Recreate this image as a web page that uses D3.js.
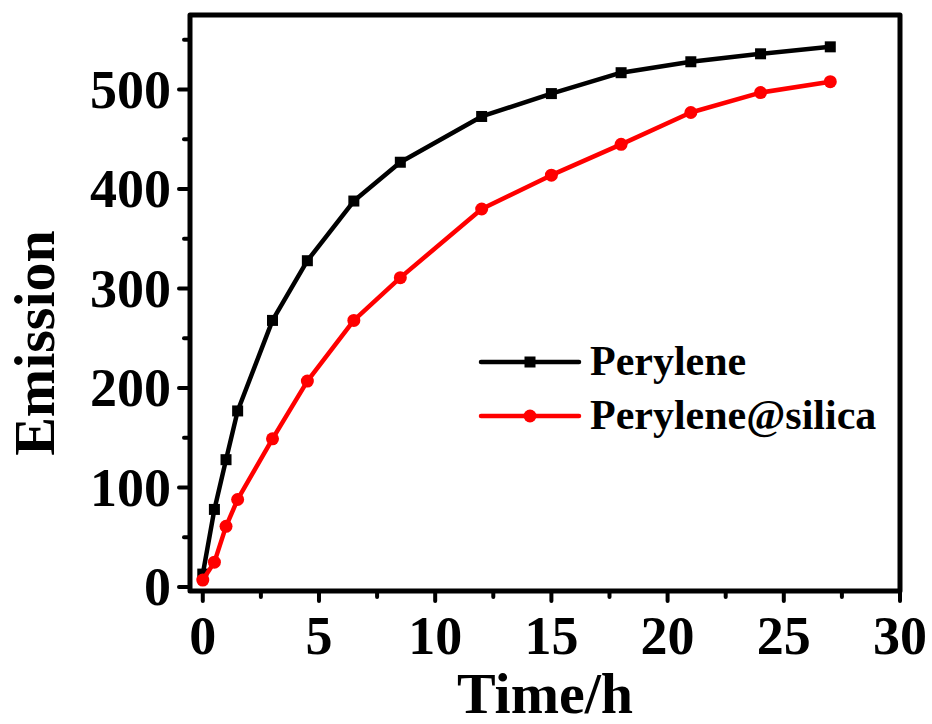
<!DOCTYPE html>
<html lang="en">
<head>
  <meta charset="utf-8">
  <title>Emission vs time</title>
  <script src="https://d3js.org/d3.v7.min.js"></script>
  <style>
    body { margin: 0; background: #fff; }
    text { font-family: "Liberation Serif", "Times New Roman", serif; font-weight: bold; }
  </style>
</head>
<body>
<svg width="932" height="724"></svg>
<script>
  // data
  var times = [0, 0.5, 1, 1.5, 3, 4.5, 6.5, 8.5, 12, 15, 18, 21, 24, 27];
  var perylene = [13, 78, 128, 177, 268, 328, 388, 427, 473, 496, 517, 528, 536, 543];
  var peryleneSilica = [7, 25, 61, 88, 149, 207, 268, 311, 380, 414, 445, 477, 497, 508];
  var xTicks = [0, 5, 10, 15, 20, 25, 30];
  var yTicks = [0, 100, 200, 300, 400, 500];

  var svg = d3.select("svg"),
    plotLeft = 190, plotRight = 900, plotTop = 15, plotBottom = 591;

  var x = d3.scaleLinear().domain([-0.55, 30]).range([plotLeft, plotRight]);
  var y = d3.scaleLinear().domain([-4, 575]).range([plotBottom, plotTop]);

  var series = [
    { name: "Perylene", values: perylene, color: "#000", marker: "square" },
    { name: "Perylene@silica", values: peryleneSilica, color: "#ff0000", marker: "circle" }
  ];

  // ticks (drawn before the frame)
  var g = svg.append("g");
  var minorX = d3.range(2.5, 30, 5);
  var minorY = d3.range(50, 575, 100);

  g.selectAll(".xmaj").data(xTicks).enter().append("line")
    .attr("x1", d => x(d)).attr("x2", d => x(d))
    .attr("y1", plotBottom).attr("y2", plotBottom + 10)
    .attr("stroke", "#000").attr("stroke-width", 4).attr("stroke-linecap", "round");
  g.selectAll(".xmin").data(minorX).enter().append("line")
    .attr("x1", d => x(d)).attr("x2", d => x(d))
    .attr("y1", plotBottom).attr("y2", plotBottom + 6)
    .attr("stroke", "#000").attr("stroke-width", 4).attr("stroke-linecap", "round");
  g.selectAll(".ymaj").data(yTicks).enter().append("line")
    .attr("x1", plotLeft).attr("x2", plotLeft - 11)
    .attr("y1", d => y(d)).attr("y2", d => y(d))
    .attr("stroke", "#000").attr("stroke-width", 4).attr("stroke-linecap", "round");
  g.selectAll(".ymin").data(minorY).enter().append("line")
    .attr("x1", plotLeft).attr("x2", plotLeft - 6)
    .attr("y1", d => y(d)).attr("y2", d => y(d))
    .attr("stroke", "#000").attr("stroke-width", 4).attr("stroke-linecap", "round");

  // tick labels
  g.selectAll(".xl").data(xTicks).enter().append("text")
    .attr("x", d => x(d)).attr("y", 654)
    .attr("text-anchor", "middle").attr("font-size", 54)
    .text(d => d);
  g.selectAll(".yl").data(yTicks).enter().append("text")
    .attr("x", 171).attr("y", d => y(d) + 18)
    .attr("text-anchor", "end").attr("font-size", 54)
    .text(d => d);

  // axis titles
  svg.append("text").attr("x", 545).attr("y", 713)
    .attr("text-anchor", "middle").attr("font-size", 58).text("Time/h");
  svg.append("text")
    .attr("transform", "translate(54,343) rotate(-90)")
    .attr("text-anchor", "middle").attr("font-size", 58).text("Emission");

  // frame
  svg.append("rect")
    .attr("x", plotLeft).attr("y", plotTop)
    .attr("width", plotRight - plotLeft).attr("height", plotBottom - plotTop)
    .attr("fill", "none").attr("stroke", "#000").attr("stroke-width", 5)
    .attr("stroke-linejoin", "round");

  // lines and markers
  var line = d3.line().x((d, i) => x(times[i])).y(d => y(d));

  series.forEach(function(s) {
    svg.append("path").datum(s.values)
      .attr("d", line)
      .attr("fill", "none").attr("stroke", s.color).attr("stroke-width", 4.5)
      .attr("stroke-linejoin", "round");
    drawMarkers(svg, s, s.values.map((v, i) => [x(times[i]), y(v)]));
  });

  function drawMarkers(sel, s, pts) {
    if (s.marker === "square") {
      sel.selectAll(null).data(pts).enter().append("rect")
        .attr("x", d => d[0] - 5.5).attr("y", d => d[1] - 5.5)
        .attr("width", 11).attr("height", 11).attr("fill", s.color);
    } else {
      sel.selectAll(null).data(pts).enter().append("circle")
        .attr("cx", d => d[0]).attr("cy", d => d[1]).attr("r", 6.5)
        .attr("fill", s.color);
    }
  }

  // legend
  var legendY = [362, 416];
  series.forEach(function(s, i) {
    var ly = legendY[i];
    svg.append("line")
      .attr("x1", 481).attr("x2", 579).attr("y1", ly).attr("y2", ly)
      .attr("stroke", s.color).attr("stroke-width", 4.5).attr("stroke-linecap", "round");
    drawMarkers(svg, s, [[530, ly]]);
    svg.append("text").attr("x", 590).attr("y", ly + 13)
      .attr("font-size", 42).text(s.name);
  });
</script>
</body>
</html>
